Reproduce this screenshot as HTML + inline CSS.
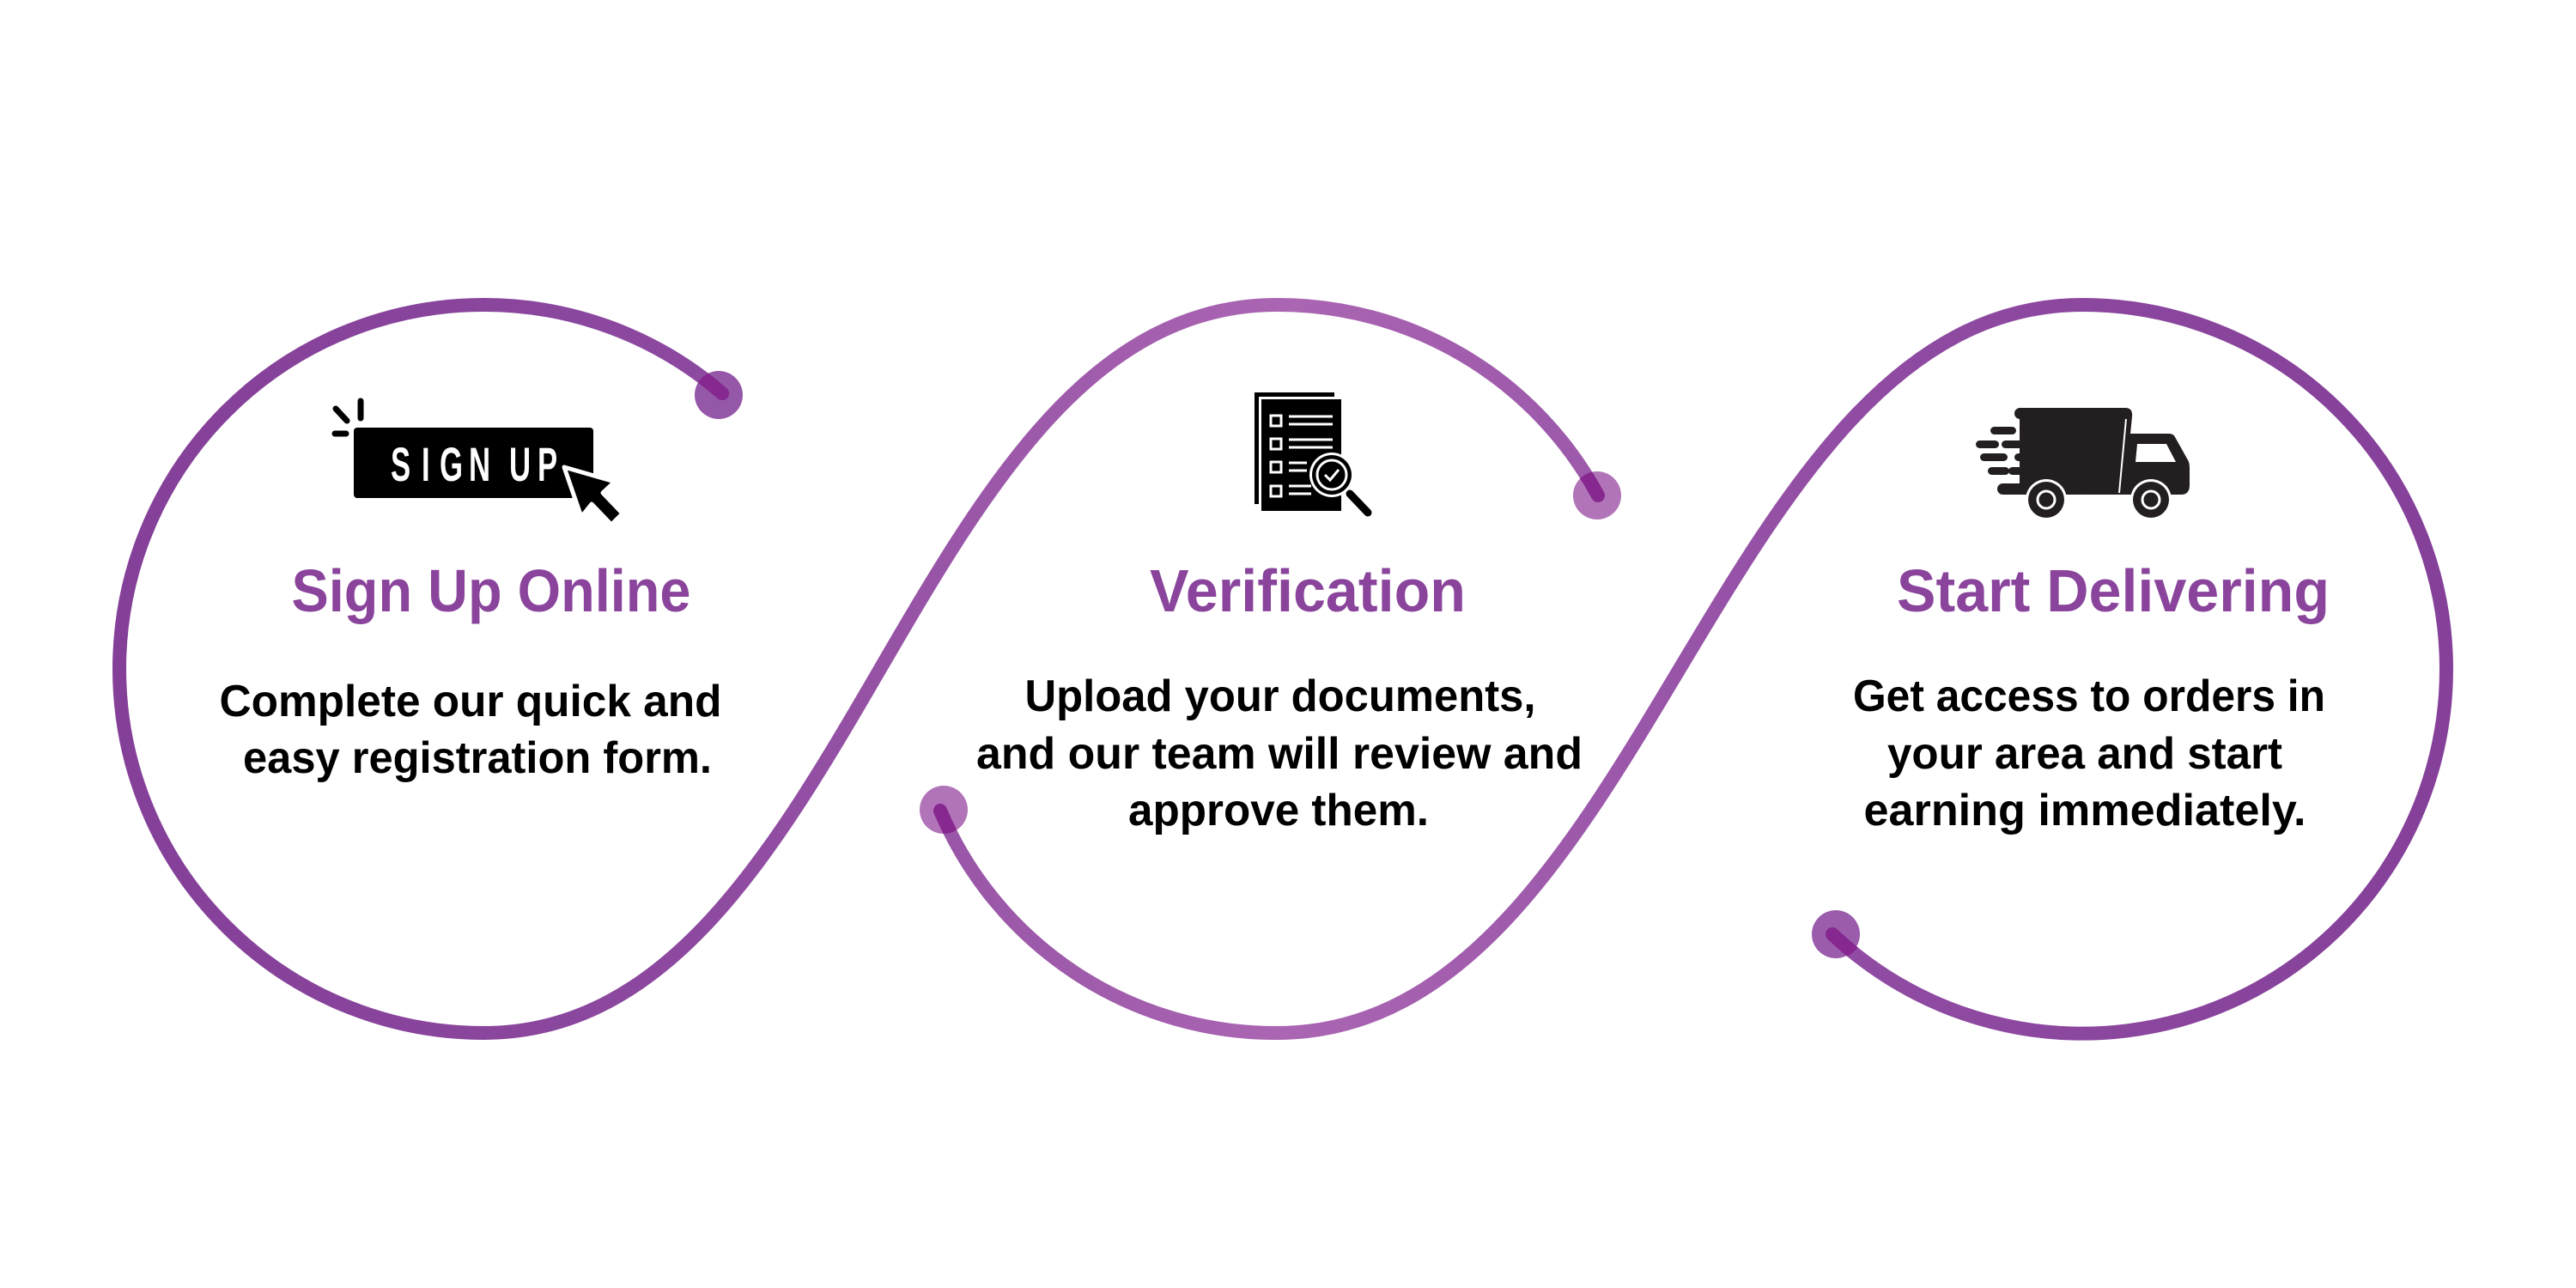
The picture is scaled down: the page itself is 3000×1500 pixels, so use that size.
<!DOCTYPE html>
<html><head><meta charset="utf-8"><style>
html,body{margin:0;padding:0;background:#fff}
svg{display:block}
text{font-family:"Liberation Sans Narrow","Liberation Sans",sans-serif;font-weight:bold}
</style></head><body>
<svg width="3000" height="1500" viewBox="0 0 3000 1500" xmlns="http://www.w3.org/2000/svg">
<defs>
<linearGradient id="g" gradientUnits="userSpaceOnUse" x1="100" y1="0" x2="2900" y2="0">
<stop offset="0" stop-color="#843f98"/>
<stop offset="0.25" stop-color="#8c499f"/>
<stop offset="0.5" stop-color="#aa66b2"/>
<stop offset="0.75" stop-color="#8f4ba2"/>
<stop offset="1" stop-color="#843f98"/>
</linearGradient>
<clipPath id="dots">
<circle cx="837" cy="460" r="28"/><circle cx="1860" cy="577" r="28"/>
<circle cx="1099" cy="943" r="28"/><circle cx="2140" cy="1088" r="28"/>
</clipPath>
<path id="pa" d="M841 458 A424 424 0 0 0 563 355 A424 424 0 0 0 139 779 A424 424 0 0 0 563 1203 C993 1203 1057 355 1487 355 A424 424 0 0 1 1861 577"/>
<path id="pb" d="M1095 944 A424 424 0 0 0 1487 1203 C1917 1203 1995 355 2425 355 A424 424 0 0 1 2849 779 A424 424 0 0 1 2134 1088"/>
</defs>
<g fill="none" stroke-linecap="round" stroke-width="16" stroke="url(#g)">
<use href="#pa"/><use href="#pb"/>
</g>
<g opacity="0.9">
<circle cx="837" cy="460" r="28" fill="#8a459e"/><circle cx="1860" cy="577" r="28" fill="#a865b0"/>
<circle cx="1099" cy="943" r="28" fill="#a865b0"/><circle cx="2138" cy="1088" r="28" fill="#8f4aa2"/>
</g>
<g clip-path="url(#dots)" fill="none" stroke="#86288f" stroke-width="16" stroke-linecap="round">
<use href="#pa"/><use href="#pb"/>
</g>

<!-- Sign up icon -->
<rect x="412" y="498" width="279" height="82" rx="4" fill="#000"/>
<g fill="#fff" font-size="56">
<text transform="translate(455,560) scale(0.62,1)">S</text>
<text transform="translate(491,560) scale(0.62,1)">I</text>
<text transform="translate(512,560) scale(0.62,1)">G</text>
<text transform="translate(546,560) scale(0.62,1)">N</text>
<text transform="translate(593,560) scale(0.62,1)">U</text>
<text transform="translate(626,560) scale(0.62,1)">P</text>
</g>
<g stroke="#000" stroke-width="7" stroke-linecap="round">
<line x1="390" y1="505" x2="403" y2="505"/><line x1="391" y1="476" x2="404" y2="490"/><line x1="420" y1="467" x2="420" y2="487"/>
</g>
<polygon points="657,544 716,561 702,574 725,598 712,611 689,587 677,602" fill="#000" stroke="#fff" stroke-width="5" stroke-linejoin="round"/>

<!-- Document icon -->
<rect x="1461" y="457" width="93" height="130" fill="#000"/>
<rect x="1466" y="462" width="98" height="135" fill="#fff"/>
<rect x="1469" y="465" width="93" height="130" fill="#000"/>
<g fill="none" stroke="#fff" stroke-width="3">
<rect x="1480" y="484" width="12" height="12"/><rect x="1480" y="511" width="12" height="12"/>
<rect x="1480" y="538" width="12" height="12"/><rect x="1480" y="566" width="12" height="12"/>
<line x1="1501" y1="485" x2="1552" y2="485"/><line x1="1501" y1="494" x2="1552" y2="494"/>
<line x1="1501" y1="512" x2="1552" y2="512"/><line x1="1501" y1="521" x2="1552" y2="521"/>
<line x1="1501" y1="539" x2="1522" y2="539"/><line x1="1501" y1="548" x2="1522" y2="548"/>
<line x1="1501" y1="566" x2="1527" y2="566"/><line x1="1501" y1="575" x2="1527" y2="575"/>
</g>
<line x1="1572" y1="575" x2="1593" y2="597" stroke="#fff" stroke-width="16" stroke-linecap="round"/>
<line x1="1572" y1="575" x2="1593" y2="597" stroke="#000" stroke-width="9" stroke-linecap="round"/>
<circle cx="1551" cy="553" r="26" fill="#fff"/>
<circle cx="1551" cy="553" r="23" fill="#000"/>
<circle cx="1551" cy="553" r="17" fill="none" stroke="#fff" stroke-width="3"/>
<polyline points="1543,553 1549,559 1559,547" fill="none" stroke="#fff" stroke-width="3"/>

<!-- Truck -->
<g fill="#231f20">
<path d="M2352 475 H2475 Q2484 475 2483 485 L2474 576 H2352 Z"/>
<path d="M2474 505 H2526 Q2531 505 2533 509 L2547 534 Q2550 538 2550 545 V565 Q2550 576 2540 576 H2467 Z"/>
<rect x="2346" y="475" width="40" height="13" rx="6.5"/>
<rect x="2318" y="497" width="30" height="9" rx="4.5"/><rect x="2357" y="497" width="50" height="9" rx="4.5"/>
<rect x="2301" y="513" width="27" height="9" rx="4.5"/><rect x="2331" y="513" width="70" height="9" rx="4.5"/>
<rect x="2306" y="528" width="32" height="9" rx="4.5"/><rect x="2346" y="528" width="50" height="9" rx="4.5"/>
<rect x="2315" y="544" width="25" height="9" rx="4.5"/><rect x="2339" y="544" width="70" height="9" rx="4.5"/>
<rect x="2326" y="563" width="100" height="13" rx="6.5"/>
</g>
<path d="M2489 517 H2523 L2534 538 H2487 Z" fill="#fff"/>
<line x1="2476" y1="488" x2="2468" y2="574" stroke="#fff" stroke-width="2"/>
<g>
<circle cx="2383" cy="582" r="24" fill="#fff"/><circle cx="2383" cy="582" r="21" fill="#231f20"/>
<circle cx="2383" cy="582" r="10" fill="none" stroke="#fff" stroke-width="3"/>
<circle cx="2505" cy="582" r="24" fill="#fff"/><circle cx="2505" cy="582" r="21" fill="#231f20"/>
<circle cx="2505" cy="582" r="10" fill="none" stroke="#fff" stroke-width="3"/>
</g>

<!-- Titles -->
<g fill="#8a449c" font-size="70" text-anchor="middle">
<text x="572" y="712" textLength="465" lengthAdjust="spacingAndGlyphs">Sign Up Online</text>
<text x="1523" y="712" textLength="368" lengthAdjust="spacingAndGlyphs">Verification</text>
<text x="2461" y="712" textLength="504" lengthAdjust="spacingAndGlyphs">Start Delivering</text>
</g>
<!-- Bodies -->
<g fill="#000" font-size="52" text-anchor="middle">
<text x="548" y="834" textLength="585" lengthAdjust="spacingAndGlyphs">Complete our quick and</text>
<text x="556" y="900" textLength="546" lengthAdjust="spacingAndGlyphs">easy registration form.</text>
<text x="1491" y="828" textLength="595" lengthAdjust="spacingAndGlyphs">Upload your documents,</text>
<text x="1490" y="895" textLength="706" lengthAdjust="spacingAndGlyphs">and our team will review and</text>
<text x="1489" y="961" textLength="350" lengthAdjust="spacingAndGlyphs">approve them.</text>
<text x="2433" y="828" textLength="550" lengthAdjust="spacingAndGlyphs">Get access to orders in</text>
<text x="2428" y="895" textLength="460" lengthAdjust="spacingAndGlyphs">your area and start</text>
<text x="2428" y="961" textLength="515" lengthAdjust="spacingAndGlyphs">earning immediately.</text>
</g>
</svg>
</body></html>
